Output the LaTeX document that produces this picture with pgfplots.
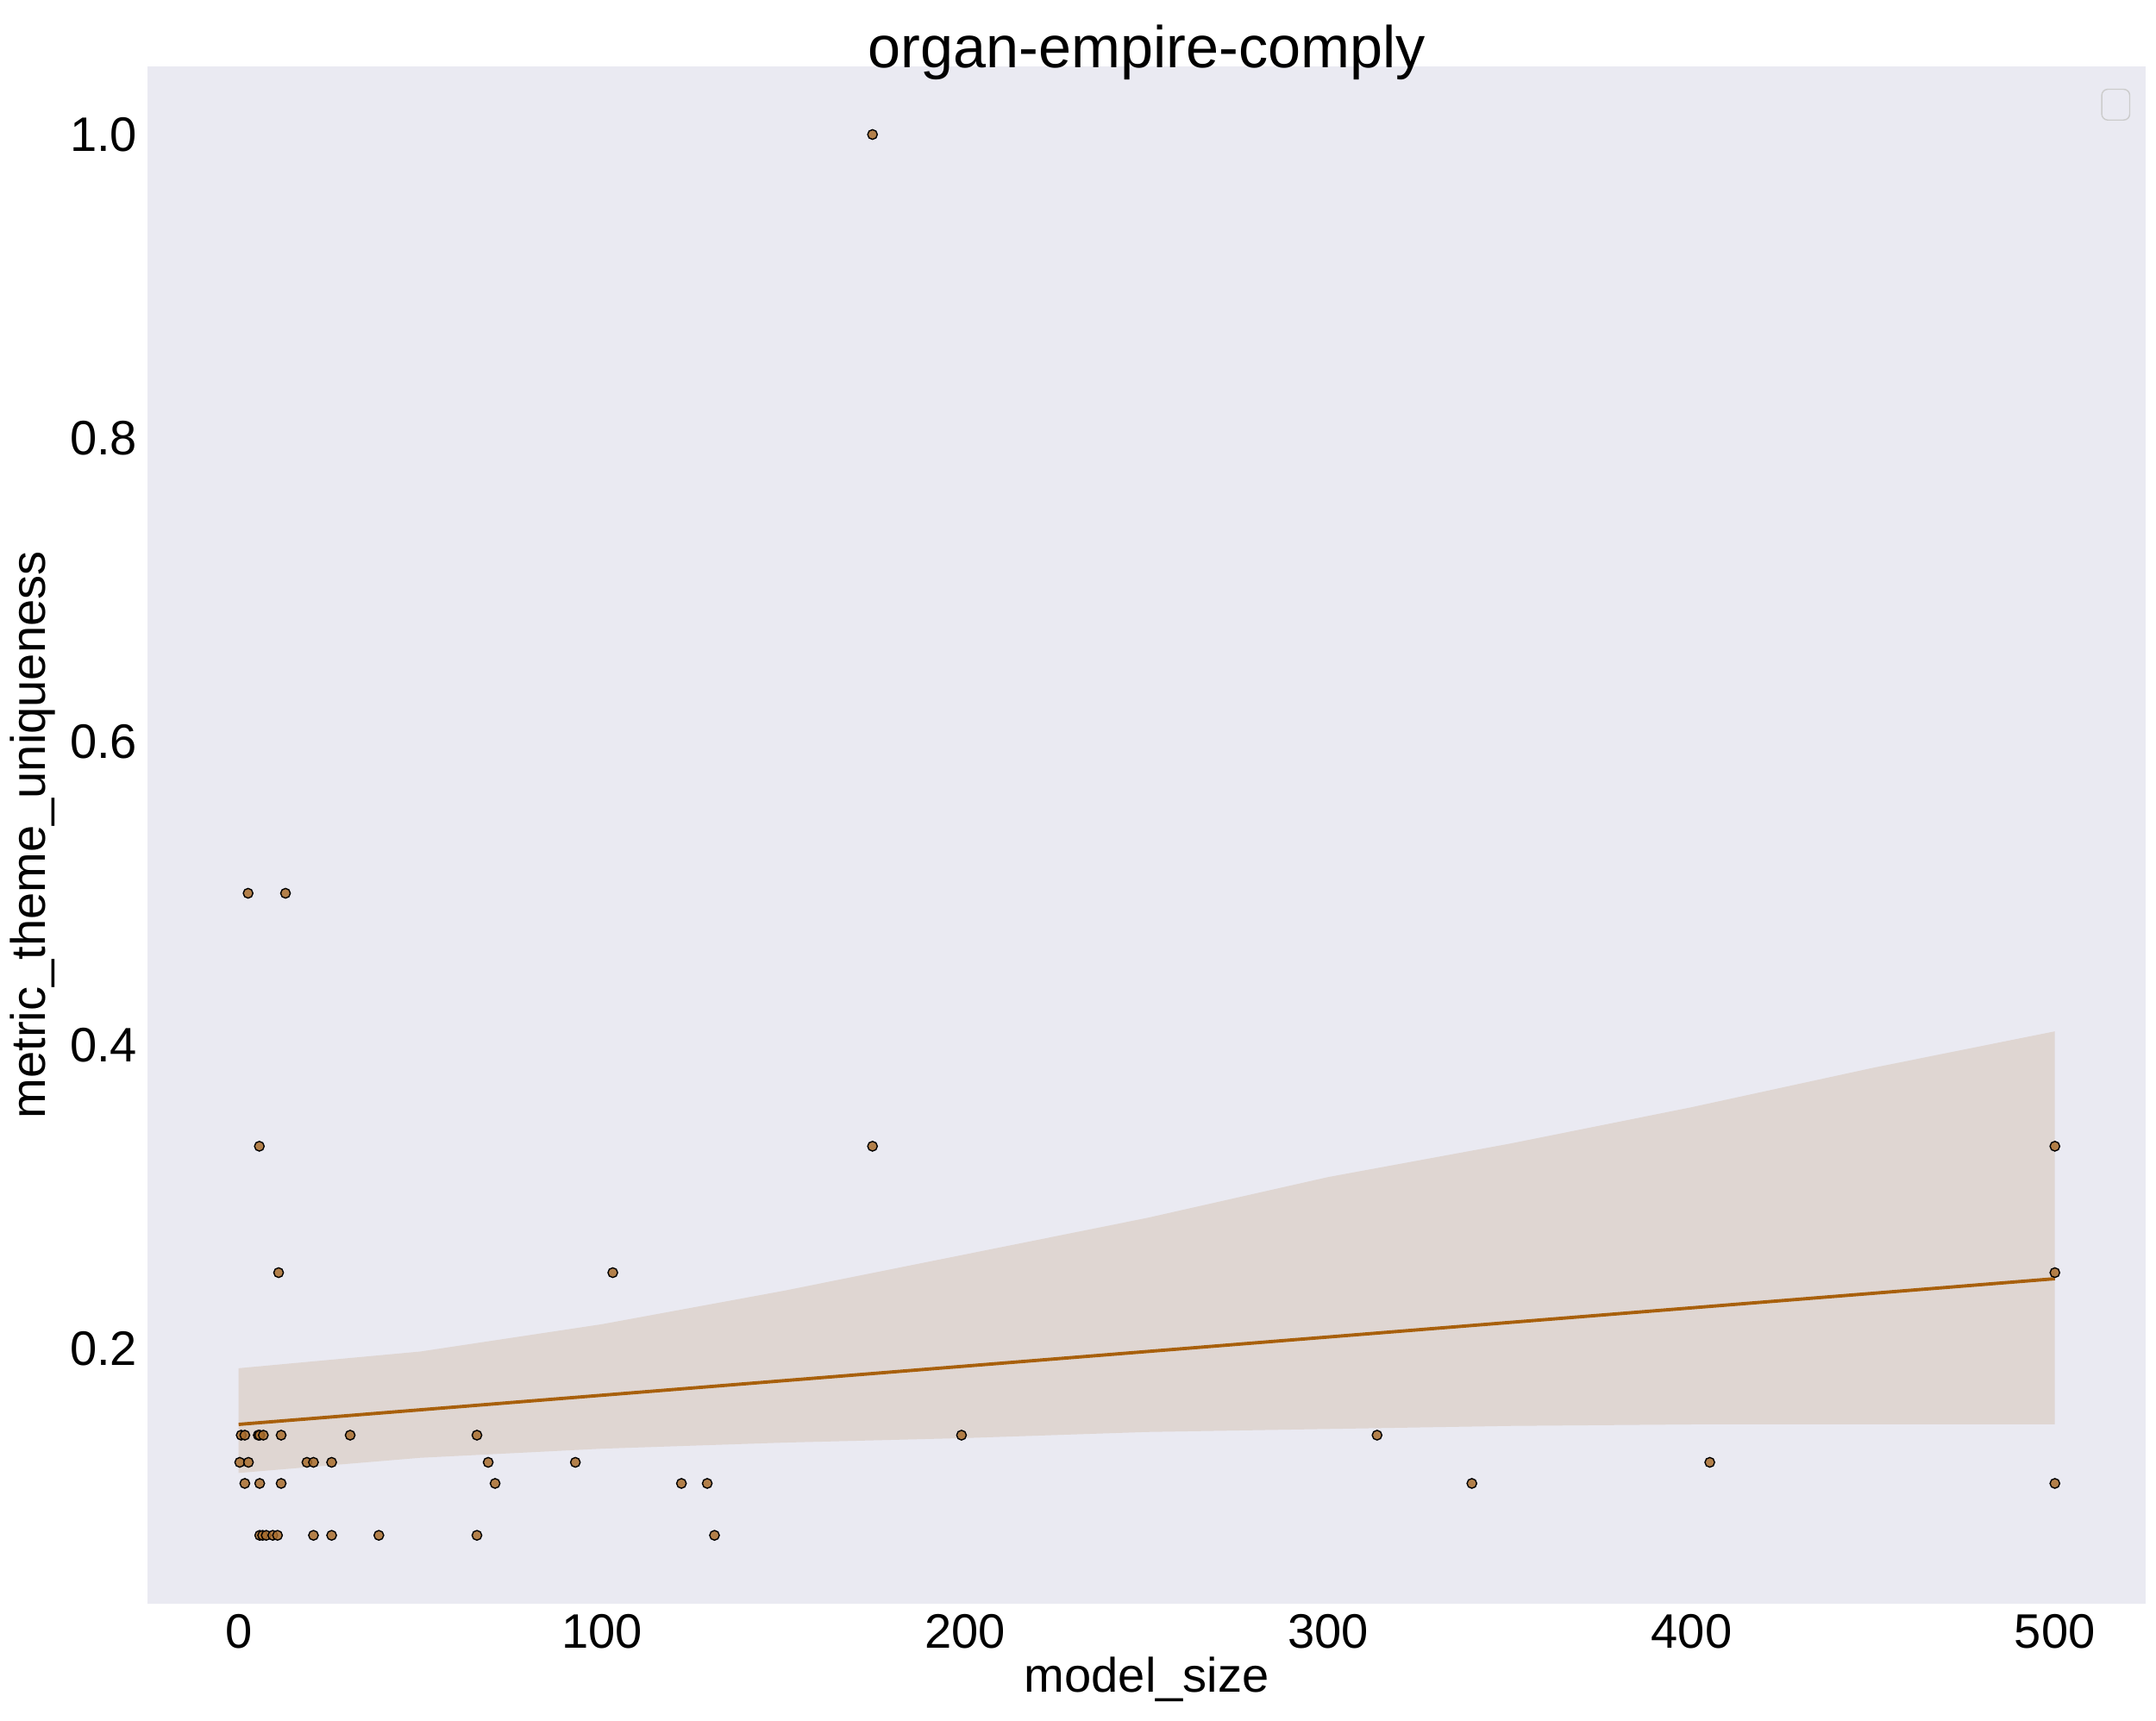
\documentclass[border=0pt]{standalone}
\usepackage{pgfplots}
\pgfplotsset{compat=1.18}
\usepgfplotslibrary{fillbetween}
\usepackage{fontspec}
\setmainfont{Liberation Sans}
\definecolor{bg}{HTML}{EAEAF2}
\definecolor{pt}{RGB}{170,110,45}
\definecolor{ln}{RGB}{168,96,12}
\definecolor{band}{RGB}{223,214,210}
\begin{document}
\begin{tikzpicture}
\begin{axis}[at={(0,0)},anchor=south west,scale only axis,width=23.22cm,height=17.87cm,
 xmin=-25,xmax=525,ymin=0.032,ymax=1.045,
 axis background/.style={fill=bg},axis line style={draw=none},
 tick style={draw=none},
 xtick={0,100,...,500},ytick={0.2,0.4,...,1.0},
 yticklabel style={/pgf/number format/.cd,fixed,fixed zerofill,precision=1},
 /pgf/number format/assume math mode=true,
 ticklabel style={font=\fontsize{16}{18}\selectfont},
 label style={font=\fontsize{16}{18}\selectfont},
 xlabel={model\_size},ylabel={metric\_theme\_uniqueness},
 xlabel style={yshift=4pt},ylabel style={yshift=-2pt},
 title={organ-empire-comply},title style={font=\fontsize{19.5}{22}\selectfont,yshift=-14pt},
 clip=false]
\addplot[name path=up,draw=none] coordinates {(0,0.187)(50,0.198)(100,0.216)(150,0.238)(200,0.262)(250,0.286)(300,0.313)(350,0.335)(400,0.359)(450,0.385)(500,0.409)};
\addplot[name path=lo,draw=none] coordinates {(0,0.118)(50,0.128)(100,0.134)(150,0.138)(200,0.141)(250,0.145)(300,0.147)(350,0.149)(400,0.150)(450,0.150)(500,0.150)};
\addplot[band] fill between[of=up and lo];
\addplot[ln,line width=1.1pt] coordinates {(0,0.150)(500,0.246)};
\addplot[only marks,mark=*,mark size=1.6pt,mark options={draw=none,fill=pt,fill opacity=0.85}] coordinates {
(0.7,0.1429)(1.7,0.1429)(5.4,0.1429)(5.8,0.1429)(6.8,0.1429)(11.7,0.1429)(30.7,0.1429)(65.6,0.1429)(199,0.1429)(313.4,0.1429)
(0.3,0.125)(2.7,0.125)(18.8,0.125)(20.6,0.125)(25.6,0.125)(68.7,0.125)(92.7,0.125)(405,0.125)
(1.7,0.1111)(5.8,0.1111)(11.7,0.1111)(70.6,0.1111)(121.9,0.1111)(129,0.1111)(339.5,0.1111)(500,0.1111)
(5.8,0.0769)(6.6,0.0769)(7.6,0.0769)(9.4,0.0769)(10.7,0.0769)(20.6,0.0769)(25.6,0.0769)(38.6,0.0769)(65.6,0.0769)(131,0.0769)
(2.6,0.5)(12.9,0.5)(5.7,0.3333)(174.5,0.3333)(500,0.3333)(11,0.25)(103,0.25)(500,0.25)(174.5,1.0)};
\draw[gray!40,rounded corners=2pt,fill=bg] (rel axis cs:0.978,0.985) rectangle (rel axis cs:0.992,0.965);
\end{axis}
\path[use as bounding box] (-1.66,-1.36) rectangle (23.34,18.64);
\end{tikzpicture}
\end{document}
